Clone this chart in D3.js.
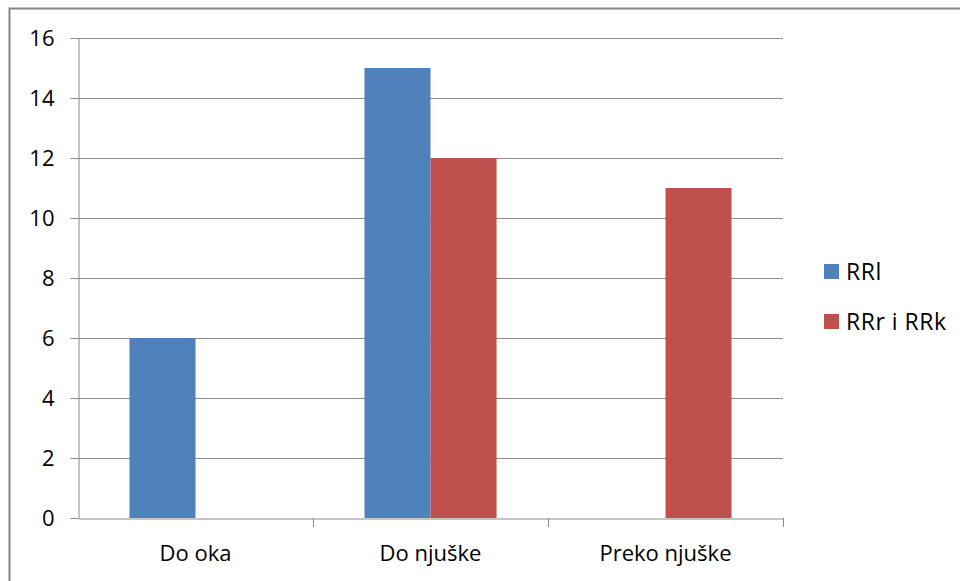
<!DOCTYPE html>
<html>
<head>
<meta charset="utf-8">
<script src="https://cdn.jsdelivr.net/npm/d3@7"></script>
<style>
  html, body { margin: 0; padding: 0; background: #fff; }
  body { width: 960px; height: 581px; overflow: hidden; }
  text { font-family: "Open Sans", Lato, sans-serif; fill: #000; }
</style>
</head>
<body>
<script>
const width = 960;
const height = 581;

const categories = ["Do oka", "Do njuške", "Preko njuške"];
const series = ["RRl", "RRr i RRk"];
const rrl = [6, 15, null];
const rrrRrk = [null, 12, 11];
const yTicks = [0, 2, 4, 6, 8, 10, 12, 14, 16];
const colors = ["#4F81BD", "#C0504D"];

const values = [rrl, rrrRrk];
const margin = { left: 78, right: 177, top: 38, bottom: 63 };
const fontSize = 22;

const svg = d3.create("svg")
  .attr("width", width)
  .attr("height", height)
  .attr("viewBox", [0, 0, width, height]);

// frame, only top and left edges are visible
svg.append("path")
  .attr("d", `M9.5,${height} V8.5 H${width}`)
  .attr("fill", "none")
  .attr("stroke", "#868686")
  .attr("stroke-width", 2);

const x0 = d3.scaleBand()
  .domain(categories)
  .range([margin.left, width - margin.right]);

const gap = x0.bandwidth() * 0.219;
const x1 = d3.scaleBand()
  .domain(series)
  .range([gap, x0.bandwidth() - gap]);

const y = d3.scaleLinear()
  .domain([0, 16])
  .range([height - margin.bottom, margin.top]);

const x2 = width - margin.right;

// gridlines
svg.append("g")
  .selectAll("line")
  .data(yTicks.filter((d) => d > 0))
  .join("line")
  .attr("x1", margin.left)
  .attr("x2", x2)
  .attr("y1", (d) => Math.round(y(d)) + 0.5)
  .attr("y2", (d) => Math.round(y(d)) + 0.5)
  .attr("stroke", "#8c8c8c")
  .attr("stroke-width", 1);

// bars
series.forEach((s, i) => {
  svg.append("g")
    .selectAll("rect")
    .data(categories.map((c, j) => ({ c, v: values[i][j] })).filter((d) => d.v != null))
    .join("rect")
    .attr("x", (d) => x0(d.c) + x1(s))
    .attr("width", x1.bandwidth())
    .attr("y", (d) => y(d.v))
    .attr("height", (d) => y(0) - y(d.v))
    .attr("fill", colors[i]);
});

// y axis
const yAxis = d3.axisLeft(y)
  .tickValues(yTicks)
  .tickSize(8)
  .tickSizeOuter(0)
  .tickPadding(16);

svg.append("g")
  .attr("transform", `translate(${margin.left + 0.5},0)`)
  .call(yAxis)
  .call((g) => g.select(".domain").attr("stroke", "#8c8c8c"))
  .call((g) => g.selectAll(".tick line").attr("stroke", "#8c8c8c"))
  .call((g) => g.selectAll(".tick text")
    .attr("font-size", fontSize)
    .attr("font-family", "'Open Sans', sans-serif")
    .attr("fill", "#000"));

// x axis
const xAxis = d3.axisBottom(x0)
  .tickSize(0)
  .tickPadding(27);

svg.append("g")
  .attr("transform", `translate(0,${Math.round(y(0)) + 0.5})`)
  .call(xAxis)
  .call((g) => g.select(".domain").attr("stroke", "#8c8c8c"))
  .call((g) => g.selectAll(".tick text")
    .attr("font-size", fontSize)
    .attr("font-family", "'Open Sans', sans-serif")
    .attr("fill", "#000"));

// category separators
svg.append("g")
  .selectAll("line")
  .data(categories.slice(1).map((c) => x0(c)).concat([x2]))
  .join("line")
  .attr("x1", (d) => Math.round(d) + 0.5)
  .attr("x2", (d) => Math.round(d) + 0.5)
  .attr("y1", Math.round(y(0)))
  .attr("y2", Math.round(y(0)) + 9)
  .attr("stroke", "#8c8c8c");

// legend
const legend = svg.append("g")
  .selectAll("g")
  .data(series)
  .join("g")
  .attr("transform", (d, i) => `translate(824,${264 + i * 50})`);

legend.append("rect")
  .attr("width", 15)
  .attr("height", 15)
  .attr("fill", (d, i) => colors[i]);

legend.append("text")
  .attr("x", 22)
  .attr("y", 16)
  .attr("font-size", 23)
  .attr("letter-spacing", 0.5)
  .text((d) => d);

document.body.appendChild(svg.node());
</script>
</body>
</html>
